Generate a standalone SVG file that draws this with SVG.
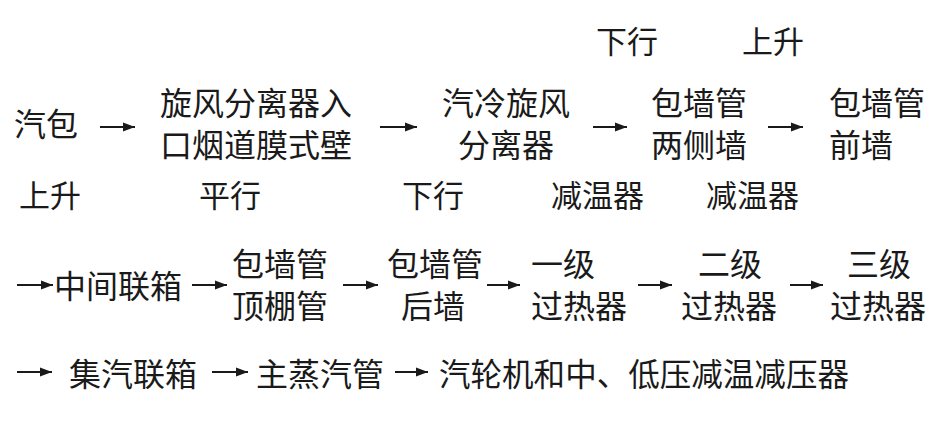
<svg xmlns="http://www.w3.org/2000/svg" width="945" height="425" viewBox="0 0 945 425">
<defs>
<marker id="ah" markerUnits="userSpaceOnUse" markerWidth="12" markerHeight="10" refX="12" refY="5" orient="auto">
<path d="M0,0.5 L12,5 L0,9.5 z" fill="#1a1a1a"/>
</marker>
<style>
text{font-family:"Noto Sans CJK SC","Noto Sans CJK JP",sans-serif;font-size:32px;fill:#1a1a1a;}
.c{text-anchor:middle;}
.lab{font-size:31px;}
#connectors line{stroke:#1a1a1a;stroke-width:1.8;marker-end:url(#ah);}
</style>
</defs>
<rect width="945" height="425" fill="#fff"/>
<g id="connectors">
<line x1="100" y1="127" x2="135" y2="127"/>
<line x1="380" y1="127" x2="417" y2="127"/>
<line x1="593" y1="127" x2="627" y2="127"/>
<line x1="768" y1="127" x2="803" y2="127"/>
<line x1="17" y1="285" x2="53" y2="285"/>
<line x1="192" y1="285" x2="227" y2="285"/>
<line x1="343" y1="285" x2="378" y2="285"/>
<line x1="487" y1="285" x2="520" y2="285"/>
<line x1="638" y1="285" x2="672" y2="285"/>
<line x1="790" y1="285" x2="823" y2="285"/>
<line x1="17" y1="372" x2="52" y2="372"/>
<line x1="212" y1="372" x2="248" y2="372"/>
<line x1="395" y1="372" x2="428" y2="372"/>
</g>
<g id="n1"><text x="14" y="136">汽包</text></g>
<g id="n2"><text x="160" y="115">旋风分离器入</text><text x="160" y="157">口烟道膜式壁</text></g>
<g id="n3"><text class="c" x="506" y="115">汽冷旋风</text><text class="c" x="506" y="157">分离器</text></g>
<g id="n4"><text x="651" y="115">包墙管</text><text x="651" y="157">两侧墙</text></g>
<g id="n5"><text x="829" y="115">包墙管</text><text x="829" y="157">前墙</text></g>
<g id="labels1">
<text class="lab" x="596" y="53">下行</text>
<text class="lab" x="742" y="53">上升</text>
<text class="lab" x="19" y="207">上升</text>
<text class="lab" x="199" y="207">平行</text>
<text class="lab" x="402" y="207">下行</text>
<text class="lab" x="551" y="207">减温器</text>
<text class="lab" x="706" y="207">减温器</text>
</g>
<g id="n6"><text x="54" y="298">中间联箱</text></g>
<g id="n7"><text x="232" y="276">包墙管</text><text x="232" y="318">顶棚管</text></g>
<g id="n8"><text class="c" x="435" y="276">包墙管</text><text class="c" x="433" y="318">后墙</text></g>
<g id="n9"><text x="531" y="276">一级</text><text x="531" y="318">过热器</text></g>
<g id="n10"><text class="c" x="730" y="276">二级</text><text class="c" x="729" y="318">过热器</text></g>
<g id="n11"><text class="c" x="879" y="276">三级</text><text class="c" x="878" y="318">过热器</text></g>
<g id="n12"><text x="69" y="386">集汽联箱</text></g>
<g id="n13"><text x="256" y="386">主蒸汽管</text></g>
<g id="n14"><text x="439" y="386" textLength="410" lengthAdjust="spacingAndGlyphs">汽轮机和中、低压减温减压器</text></g>
</svg>
